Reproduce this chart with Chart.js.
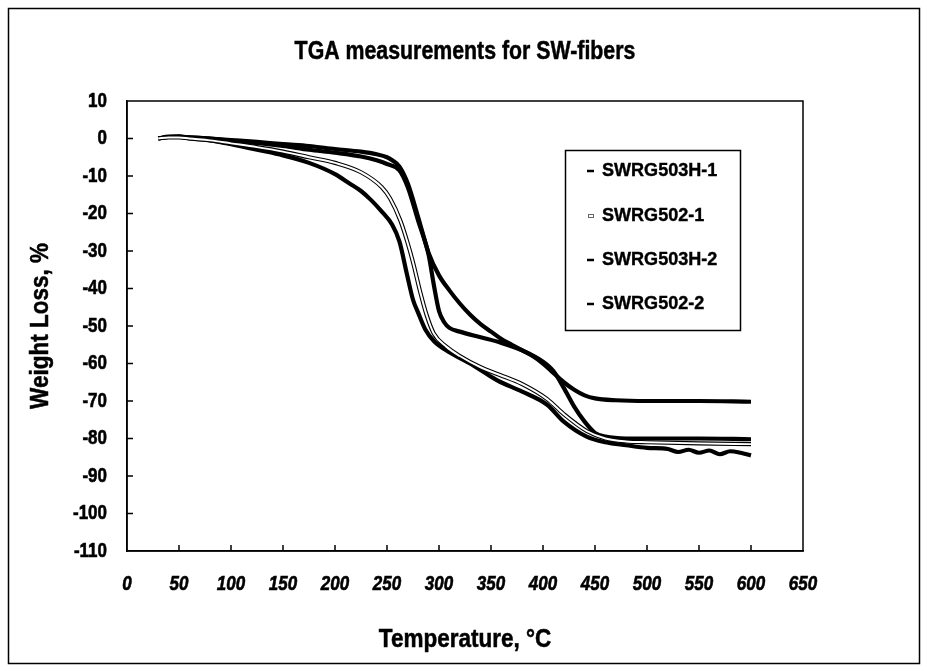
<!DOCTYPE html>
<html><head><meta charset="utf-8">
<script src="https://cdn.jsdelivr.net/npm/chart.js@4.4.1/dist/chart.umd.min.js"></script>
<style>html,body{margin:0;padding:0;background:#fff;}</style>
</head><body>
<canvas id="c" width="927" height="671"></canvas>
<script>
const chartTitle = 'TGA measurements for SW-fibers';
const xTitle = 'Temperature, °C';
const yTitle = 'Weight Loss, %';
const seriesNames = ['SWRG503H-1', 'SWRG502-1', 'SWRG503H-2', 'SWRG502-2'];
const xTickValues = [0,50,100,150,200,250,300,350,400,450,500,550,600,650];
const yTickValues = [10,0,-10,-20,-30,-40,-50,-60,-70,-80,-90,-100,-110];

const tempA = [30,40,50,60,80,100,125,150,175,200,225,240,250,255,262,270,280,290,300,310,320,330,340,350,360,370,380,390,400,410,420,430,440,450,470,500,550,600];
const lossA = [0,0.4,0.5,0.3,0,-0.4,-0.9,-1.5,-2,-2.8,-3.5,-4.2,-5,-5.8,-7.5,-12,-21,-30.5,-36.5,-40.5,-44,-47,-49.5,-51.5,-53.5,-55,-56.5,-58,-60,-62.5,-65,-67,-68.5,-69.3,-69.8,-70,-70,-70.2];

const tempB = [30,40,50,60,80,100,125,150,175,200,225,240,250,262,270,280,290,295,300,305,310,320,340,360,380,400,410,420,430,440,450,460,480,500,550,600];
const lossB = [0,0.4,0.5,0.3,0,-0.6,-1.2,-2,-3,-3.8,-4.8,-5.8,-6.8,-8.5,-13,-22,-31,-39,-46,-49,-50.5,-51.5,-53,-54.5,-56.5,-59.5,-62,-66.5,-71.5,-75.5,-78.5,-79.5,-80,-80,-80,-80.2];

const tempC = [30,40,50,60,80,100,125,150,175,200,225,245,253,263,270,275,282,288,295,307,320,340,358,380,404,420,442,460,480,500,550,600];
const lossC = [0,0.3,0.3,0,-0.5,-1.3,-2.3,-3.5,-5,-6.5,-9,-13,-16,-22,-28,-33,-41,-47,-52,-55.5,-58,-61,-63,-65.5,-69.5,-73.5,-78,-80,-80.8,-81,-81.3,-81.5];

const tempD = [30,40,50,60,80,100,125,150,175,200,214,225,235,245,255,262,269,275,280,287,295,310,333,356,380,404,420,442,460,480,500,520,530,540,550,560,570,580,590,600];
const lossD = [0,0.5,0.5,0,-0.5,-1.5,-3,-4.5,-6.5,-9.5,-12,-14,-16.5,-19.5,-23,-27.5,-36,-43,-46.5,-51,-54,-57,-60.5,-64.5,-67.5,-71,-75.5,-79.5,-81,-81.8,-82.5,-82.8,-83.6,-83,-83.8,-83.2,-84.2,-83.4,-83.8,-84.5];

const FONT = "'Liberation Sans', Arial, sans-serif";
Chart.defaults.font.family = FONT;
Chart.defaults.color = '#000';

function pts(xs, ys) { return xs.map((x, i) => ({x: x, y: ys[i]})); }

const thick = 4.2;
const datasets = [
  {label: seriesNames[0], data: pts(tempA, lossA), borderColor: '#000', borderWidth: thick, order: 2},
  {label: seriesNames[1] + ' inner', data: pts(tempC, lossC), borderColor: '#fff', borderWidth: 2, order: 0, legendSkip: true},
  {label: seriesNames[1], data: pts(tempC, lossC), borderColor: '#000', borderWidth: 4.2, order: 1},
  {label: seriesNames[2], data: pts(tempB, lossB), borderColor: '#000', borderWidth: thick, order: 2},
  {label: seriesNames[3], data: pts(tempD, lossD), borderColor: '#000', borderWidth: thick, order: 2}
].map(d => Object.assign({showLine: true, pointRadius: 0, fill: false, cubicInterpolationMode: 'monotone'}, d));

function txt(ctx, s, x, y, size, o) {
  ctx.save();
  ctx.translate(x, y);
  if (o.rot) ctx.rotate(o.rot);
  ctx.scale(o.sx || 1, 1);
  ctx.font = (o.italic ? 'italic ' : '') + 'bold ' + size + 'px ' + FONT;
  ctx.textAlign = o.align || 'center';
  ctx.textBaseline = 'middle';
  ctx.fillStyle = '#000';
  ctx.fillText(s, 0, 0);
  if (o.heavy) { ctx.lineWidth = o.heavy; ctx.strokeStyle = '#000'; ctx.strokeText(s, 0, 0); }
  ctx.restore();
}

const framePlugin = {
  id: 'frame',
  afterDraw(chart) {
    const ctx = chart.ctx, a = chart.chartArea;
    const xs = chart.scales.x, ys = chart.scales.y;
    ctx.save();
    ctx.strokeStyle = '#000';
    ctx.lineWidth = 1.5;
    ctx.strokeRect(8.5, 8.5, 911, 655);
    ctx.strokeRect(a.left, a.top, a.right - a.left, a.bottom - a.top);
    // inner tick marks
    ctx.beginPath();
    xs.ticks.forEach(t => {
      const px = xs.getPixelForValue(t.value);
      if (px <= a.left + 1 || px >= a.right - 1) return;
      ctx.moveTo(px, a.bottom); ctx.lineTo(px, a.bottom - 6);
    });
    ys.ticks.forEach(t => {
      const py = ys.getPixelForValue(t.value);
      if (py <= a.top + 1 || py >= a.bottom - 1) return;
      ctx.moveTo(a.left, py); ctx.lineTo(a.left + 6, py);
    });
    ctx.stroke();
    // tick labels
    xs.ticks.forEach(t => txt(ctx, String(t.value), xs.getPixelForValue(t.value), a.bottom + 33, 20, {italic: true, sx: 0.85, heavy: 0.6}));
    ys.ticks.forEach(t => txt(ctx, String(t.value), a.left - 20, ys.getPixelForValue(t.value), 20, {align: 'right', sx: 0.85, heavy: 0.6}));
    // titles
    const cx = (a.left + a.right) / 2, cy = (a.top + a.bottom) / 2;
    txt(ctx, chartTitle, cx, 52, 26, {sx: 0.82, heavy: 0.5});
    txt(ctx, xTitle, cx, 640, 25, {sx: 0.9, heavy: 0.5});
    txt(ctx, yTitle, 41, cy, 25, {sx: 0.9, rot: -Math.PI / 2, heavy: 0.5});
    // legend box
    const bx = 565, by = 150, bw = 175, bh = 180;
    ctx.fillStyle = '#fff';
    ctx.fillRect(bx, by, bw, bh);
    ctx.lineWidth = 1.5;
    ctx.strokeStyle = '#000';
    ctx.strokeRect(bx + 0.5, by + 0.5, bw, bh);
    const rows = [171, 216, 260, 304];
    chart.data.datasets.filter(d => !d.legendSkip).forEach((d, i) => {
      const y = rows[i];
      if (d.label === seriesNames[1]) {
        ctx.lineWidth = 1; ctx.strokeStyle = '#666';
        ctx.strokeRect(588.5, y - 1.5, 5, 3);
      } else {
        ctx.lineWidth = 2.5; ctx.strokeStyle = '#000';
        ctx.beginPath(); ctx.moveTo(587, y); ctx.lineTo(594, y); ctx.stroke();
      }
      txt(ctx, d.label, 602, y, 19, {align: 'left', sx: 0.95, heavy: 0.4});
    });
    ctx.restore();
  }
};

new Chart(document.getElementById('c'), {
  type: 'scatter',
  data: {datasets: datasets},
  plugins: [framePlugin],
  options: {
    responsive: false,
    animation: false,
    layout: {padding: {left: 0, right: 124, top: 101, bottom: 0}},
    plugins: {legend: {display: false}, tooltip: {enabled: false}, title: {display: false}},
    scales: {
      x: {
        type: 'linear', min: 0, max: 650,
        afterBuildTicks(s) { s.ticks = xTickValues.map(v => ({value: v})); },
        afterFit(s) { s.height = 120; },
        ticks: {display: false},
        grid: {display: false, drawTicks: false},
        border: {display: true, color: '#000', width: 1.5}
      },
      y: {
        type: 'linear', min: -110, max: 10,
        afterBuildTicks(s) { s.ticks = yTickValues.map(v => ({value: v})); },
        afterFit(s) { s.width = 127; },
        ticks: {display: false},
        grid: {display: false, drawTicks: false},
        border: {display: true, color: '#000', width: 1.5}
      }
    }
  }
});
</script>
</body></html>
